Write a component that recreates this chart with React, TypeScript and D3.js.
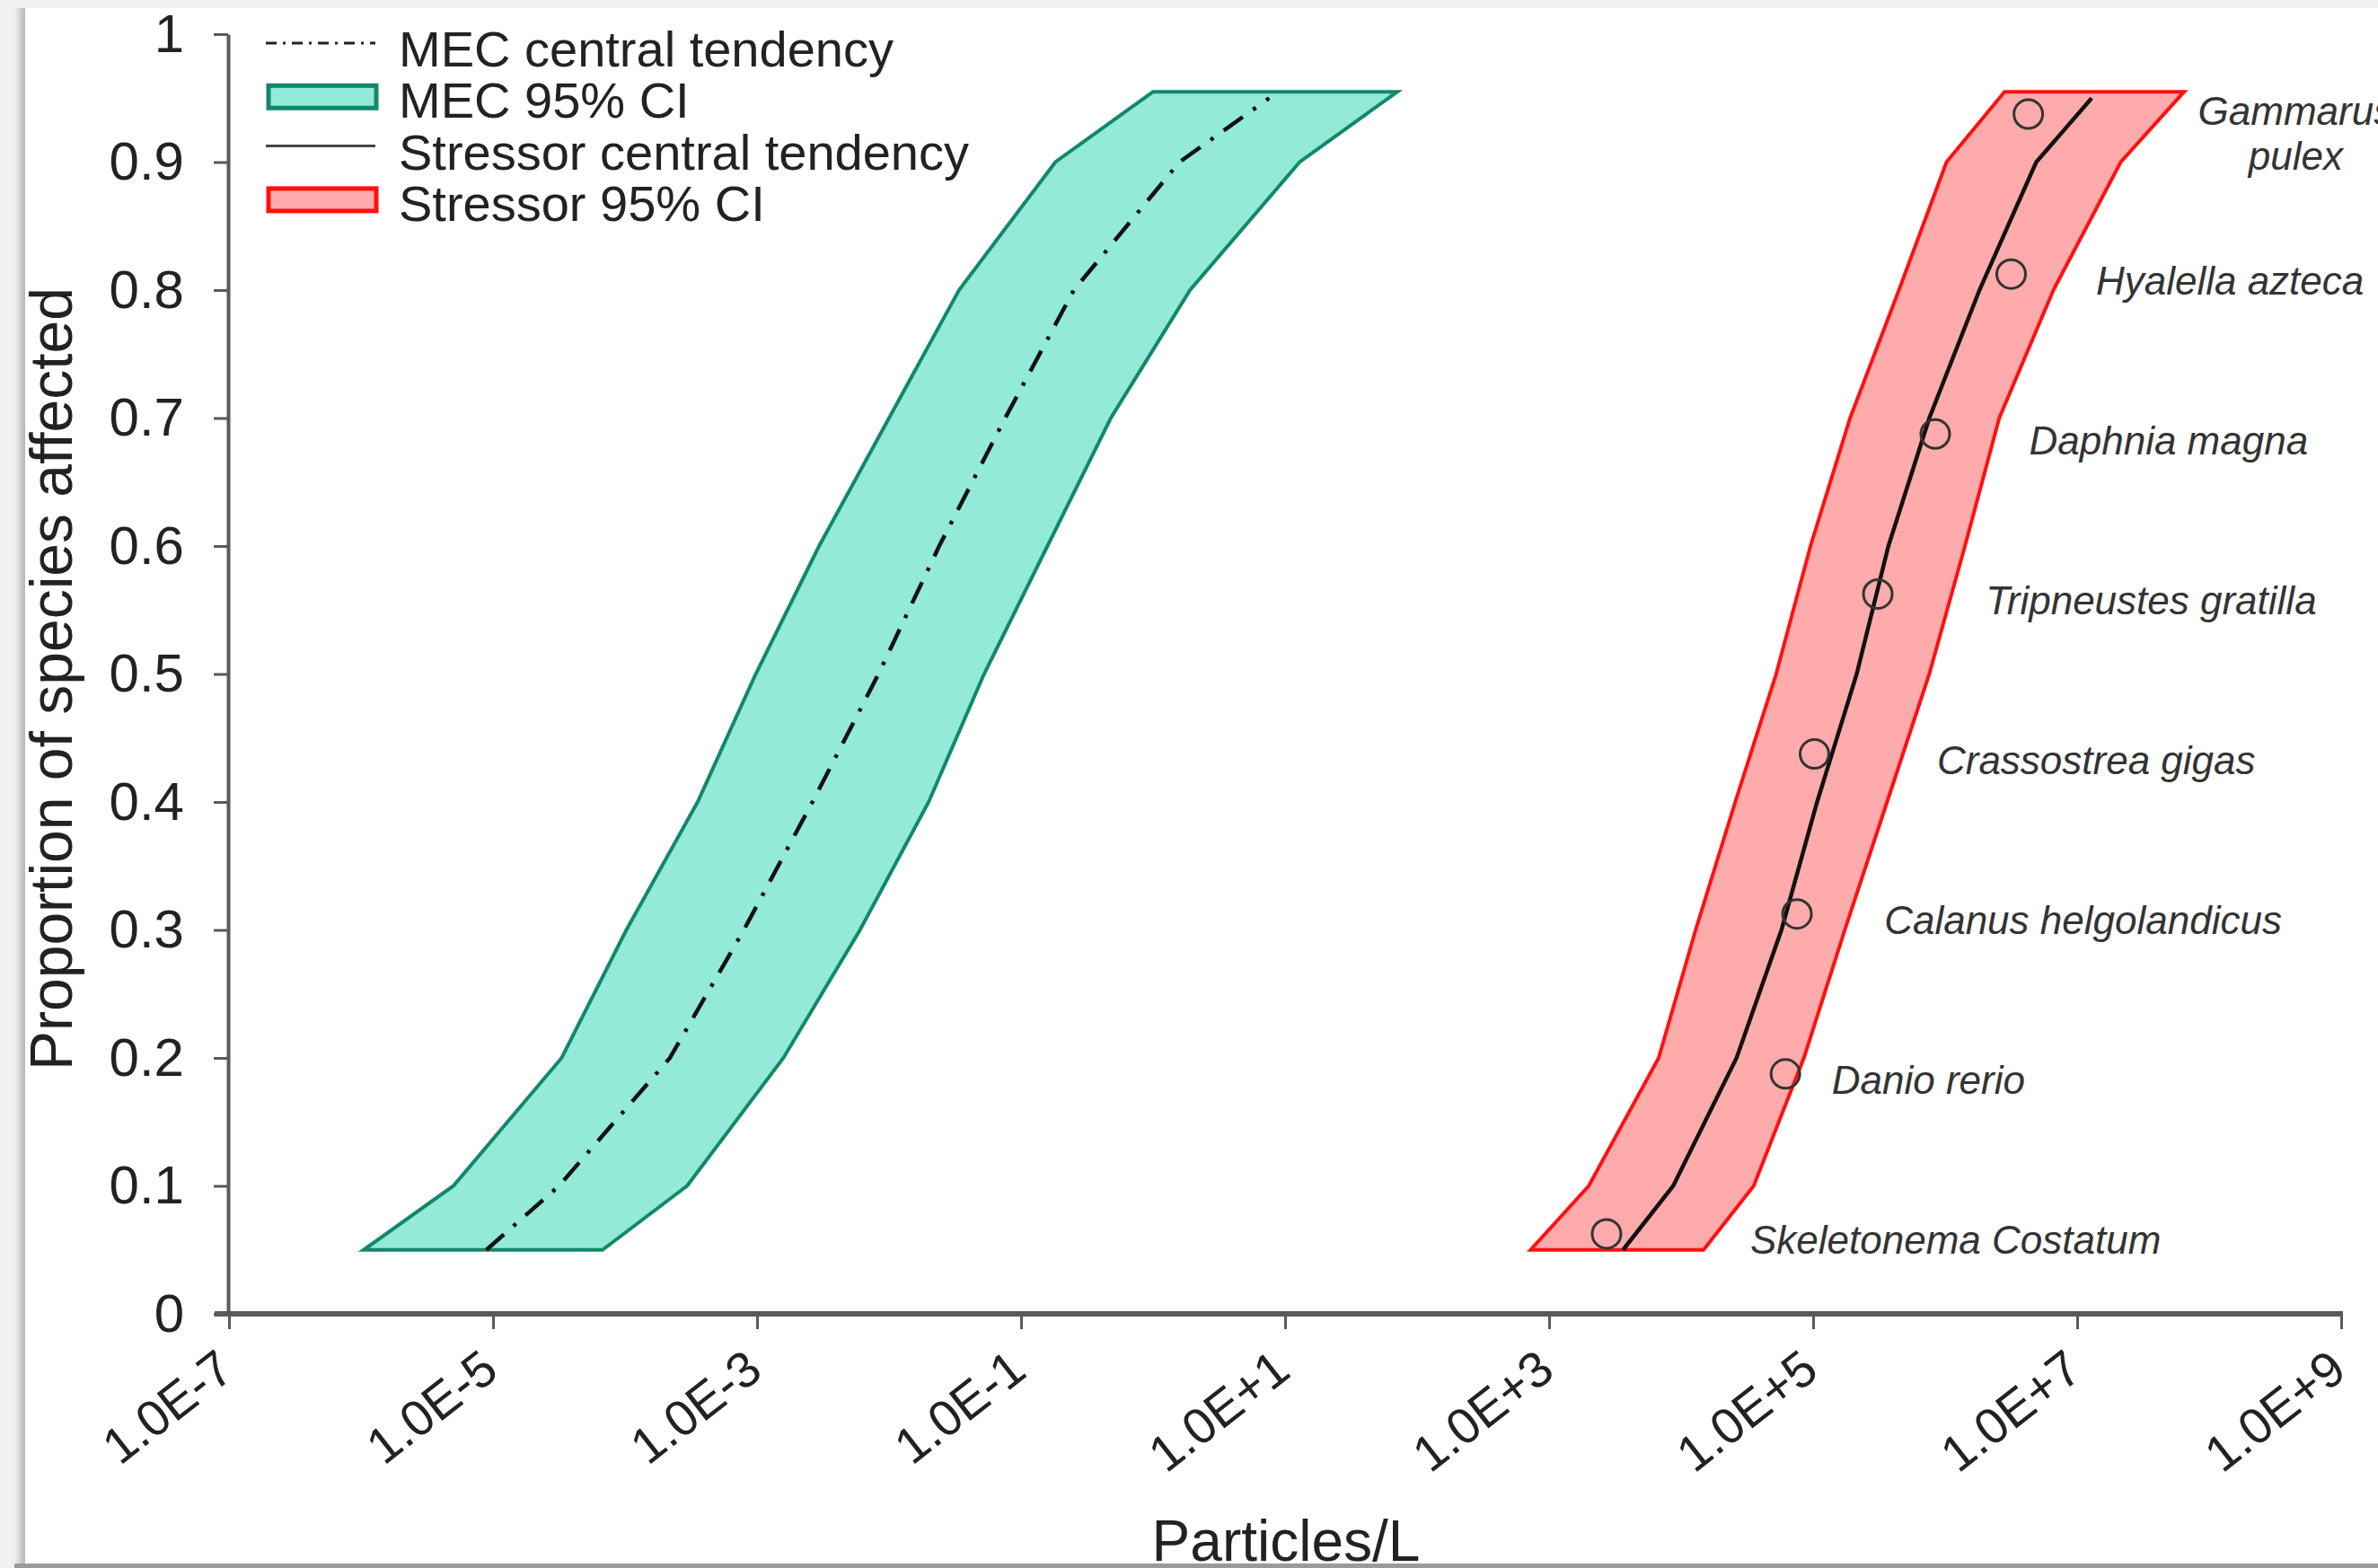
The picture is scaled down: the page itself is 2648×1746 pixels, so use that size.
import React, { useEffect, useRef } from "react";
import * as d3 from "d3";

const W = 2648;
const H = 1746;

const bandLevels = [0.05, 0.1, 0.2, 0.3, 0.4, 0.5, 0.6, 0.7, 0.8, 0.9, 0.955];
const lineLevels = [0.05, 0.1, 0.2, 0.3, 0.4, 0.5, 0.6, 0.7, 0.8, 0.9, 0.95];

// all x values as log10(particles/L)
const mecLowerExp = [-5.98, -5.3, -4.48, -3.99, -3.45, -3.01, -2.53, -2.0, -1.47, -0.74, 0.0];
const mecUpperExp = [-4.17, -3.53, -2.8, -2.22, -1.7, -1.28, -0.8, -0.32, 0.28, 1.11, 1.85];
const mecCentralExp = [-5.05, -4.5, -3.66, -3.1, -2.58, -2.08, -1.62, -1.12, -0.6, 0.2, 0.88];

const stressLowerExp = [2.86, 3.3, 3.83, 4.11, 4.41, 4.72, 4.98, 5.28, 5.65, 6.01, 6.45];
const stressUpperExp = [4.17, 4.55, 4.93, 5.24, 5.56, 5.88, 6.15, 6.41, 6.82, 7.33, 7.81];
const stressCentralExp = [3.56, 3.94, 4.42, 4.76, 5.03, 5.33, 5.57, 5.88, 6.26, 6.69, 7.11];

const species = [
  "Skeletonema Costatum",
  "Danio rerio",
  "Calanus helgolandicus",
  "Crassostrea gigas",
  "Tripneustes gratilla",
  "Daphnia magna",
  "Hyalella azteca",
  "Gammarus pulex",
];
const speciesExp = [3.435, 4.79, 4.878, 5.01, 5.49, 5.925, 6.5, 6.63];
const speciesFrac = [0.0625, 0.1875, 0.3125, 0.4375, 0.5625, 0.6875, 0.8125, 0.9375];

const xTickExp = [-7, -5, -3, -1, 1, 3, 5, 7, 9];
const yTicks = [0, 0.1, 0.2, 0.3, 0.4, 0.5, 0.6, 0.7, 0.8, 0.9, 1];

const legendItems = ["MEC central tendency", "MEC 95% CI", "Stressor central tendency", "Stressor 95% CI"];

const FONT = "'Liberation Sans', Arial, Helvetica, sans-serif";
const AXIS = "#5a5a5a";
const GREEN_FILL = "#93ead8";
const GREEN_LINE = "#10896a";
const RED_FILL = "#ffabab";
const RED_LINE = "#ff1010";

const App = () => {
  const svgRef = useRef<SVGSVGElement>(null);

  useEffect(() => {
    document.body.style.margin = "0";
    const svg = d3.select(svgRef.current);
    svg.selectAll("*").remove();

    // background "paper" with a soft shadow
    const defs = svg.append("defs");
    const grad = defs.append("linearGradient").attr("id", "shadowL");
    grad.append("stop").attr("offset", "0%").attr("stop-color", "#f2f2f2");
    grad.append("stop").attr("offset", "100%").attr("stop-color", "#b5b5b5");
    svg.append("rect").attr("width", W).attr("height", H).attr("fill", "#f0f0f0");
    svg.append("rect").attr("x", 16).attr("y", 9).attr("width", 12).attr("height", H).attr("fill", "url(#shadowL)");
    svg.append("rect").attr("x", 16).attr("y", 1741).attr("width", W).attr("height", 5).attr("fill", "#9a9a9a");
    svg.append("rect").attr("x", 28).attr("y", 9).attr("width", W - 28).attr("height", 1732).attr("fill", "#fff");

    const x = d3.scaleLog().domain([1e-7, 1e9]).range([255, 2607]);
    const y = d3.scaleLinear().domain([0, 1]).range([1463, 38]);
    const px = (e: number) => x(Math.pow(10, e));

    // confidence bands
    const band = d3
      .area<[number, number]>()
      .y((_, i) => y(bandLevels[i]))
      .x0((d) => px(d[0]))
      .x1((d) => px(d[1]));

    svg
      .append("path")
      .attr("d", band(d3.zip(mecLowerExp, mecUpperExp) as [number, number][]))
      .attr("fill", GREEN_FILL)
      .attr("stroke", GREEN_LINE)
      .attr("stroke-width", 4)
      .attr("stroke-linejoin", "miter");

    svg
      .append("path")
      .attr("d", band(d3.zip(stressLowerExp, stressUpperExp) as [number, number][]))
      .attr("fill", RED_FILL)
      .attr("stroke", RED_LINE)
      .attr("stroke-width", 4)
      .attr("stroke-linejoin", "miter");

    // central tendencies
    const central = d3
      .line<number>()
      .x((d) => px(d))
      .y((_, i) => y(lineLevels[i]));

    svg
      .append("path")
      .attr("d", central(mecCentralExp))
      .attr("fill", "none")
      .attr("stroke", "#111")
      .attr("stroke-width", 4.5)
      .attr("stroke-dasharray", "26,14,4,14");

    svg
      .append("path")
      .attr("d", central(stressCentralExp))
      .attr("fill", "none")
      .attr("stroke", "#111")
      .attr("stroke-width", 4.5);

    // species points
    svg
      .append("g")
      .selectAll("circle")
      .data(speciesExp)
      .join("circle")
      .attr("cx", (d) => px(d))
      .attr("cy", (_, i) => y(speciesFrac[i]))
      .attr("r", 16)
      .attr("fill", "none")
      .attr("stroke", "#333")
      .attr("stroke-width", 3);

    // species labels, placed right of the stressor band
    const upperAt = d3.scaleLinear().domain(bandLevels).range(stressUpperExp);
    const labels = svg
      .append("g")
      .attr("font-family", FONT)
      .attr("font-style", "italic")
      .attr("font-size", 44)
      .attr("fill", "#333");
    species.forEach((name, i) => {
      const lx = px(upperAt(speciesFrac[i])) + 38;
      const ly = y(speciesFrac[i]);
      if (name === "Gammarus pulex") {
        const [a, b] = name.split(" ");
        const t1 = labels
          .append("text")
          .attr("x", lx)
          .attr("y", ly - 4)
          .attr("dominant-baseline", "central")
          .text(a);
        const w = (t1.node() as SVGTextElement).getComputedTextLength();
        labels
          .append("text")
          .attr("x", lx + w / 2)
          .attr("y", ly + 46)
          .attr("text-anchor", "middle")
          .attr("dominant-baseline", "central")
          .text(b);
      } else {
        labels
          .append("text")
          .attr("x", lx)
          .attr("y", ly + 7)
          .attr("dominant-baseline", "central")
          .text(name);
      }
    });

    // y axis
    const yAxis = svg
      .append("g")
      .attr("transform", `translate(254,0)`)
      .call(
        d3
          .axisLeft(y)
          .tickValues(yTicks)
          .tickSize(16)
          .tickSizeOuter(0)
          .tickPadding(33)
          .tickFormat((d) => (d === 0 || d === 1 ? String(d) : d3.format(".1f")(d as number)))
      );
    yAxis.select(".domain").attr("stroke", AXIS).attr("stroke-width", 4);
    yAxis.selectAll(".tick line").attr("stroke", AXIS).attr("stroke-width", 3);
    yAxis
      .selectAll(".tick text")
      .attr("font-family", FONT)
      .attr("font-size", 60)
      .attr("fill", "#222");

    // x axis
    const xAxis = svg
      .append("g")
      .attr("transform", `translate(0,1463)`)
      .call(
        d3
          .axisBottom(x)
          .tickValues(xTickExp.map((e) => Math.pow(10, e)))
          .tickSize(17)
          .tickSizeOuter(0)
          .tickFormat((d) => {
            const e = Math.round(Math.log10(d as number));
            return `1.0E${e >= 0 ? "+" : "-"}${Math.abs(e)}`;
          })
      );
    xAxis.select(".domain").remove();
    xAxis
      .append("line")
      .attr("x1", 239)
      .attr("x2", 2609)
      .attr("stroke", AXIS)
      .attr("stroke-width", 6);
    xAxis.selectAll(".tick line").attr("stroke", AXIS).attr("stroke-width", 3);
    xAxis
      .selectAll(".tick text")
      .attr("x", 0)
      .attr("y", 0)
      .attr("dy", 0)
      .attr("text-anchor", "end")
      .attr("transform", "translate(8,68) rotate(-38)")
      .attr("font-family", FONT)
      .attr("font-size", 56)
      .attr("fill", "#222");

    // axis titles
    svg
      .append("text")
      .attr("x", 1432)
      .attr("y", 1738)
      .attr("text-anchor", "middle")
      .attr("font-family", FONT)
      .attr("font-size", 64)
      .attr("fill", "#222")
      .text("Particles/L");

    svg
      .append("text")
      .attr("transform", "translate(80,756) rotate(-90)")
      .attr("text-anchor", "middle")
      .attr("font-family", FONT)
      .attr("font-size", 66)
      .attr("fill", "#222")
      .text("Proportion of species affected");

    // legend
    const legend = svg.append("g").attr("font-family", FONT).attr("font-size", 56).attr("fill", "#222");
    legendItems.forEach((label, i) => {
      const cy = 54 + i * 57.3;
      if (i === 0 || i === 2) {
        legend
          .append("line")
          .attr("x1", 296)
          .attr("x2", 418)
          .attr("y1", cy - 6)
          .attr("y2", cy - 6)
          .attr("stroke", i === 0 ? "#222" : "#444")
          .attr("stroke-width", 3)
          .attr("stroke-dasharray", i === 0 ? "12,7,3,7" : null);
      } else {
        legend
          .append("rect")
          .attr("x", 299)
          .attr("y", cy - 16)
          .attr("width", 120)
          .attr("height", 25)
          .attr("fill", i === 1 ? GREEN_FILL : RED_FILL)
          .attr("stroke", i === 1 ? GREEN_LINE : RED_LINE)
          .attr("stroke-width", 5);
      }
      legend
        .append("text")
        .attr("x", 444)
        .attr("y", cy + 20)
        .text(label);
    });
  }, []);

  return <svg ref={svgRef} width={W} height={H} style={{ display: "block" }} />;
};

export default App;
